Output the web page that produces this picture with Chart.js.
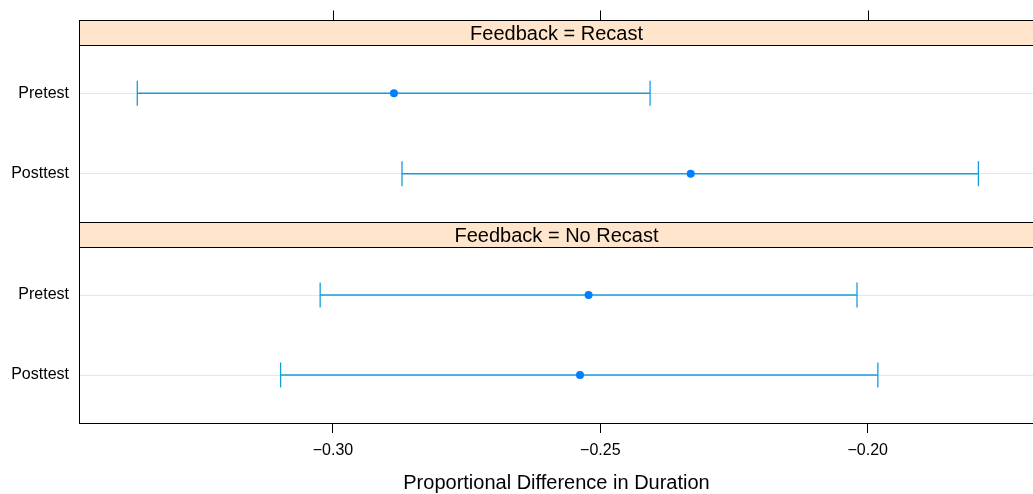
<!DOCTYPE html>
<html lang="en">
<head>
    <meta charset="UTF-8">
    <title>Proportional Difference in Duration</title>
    <script src="https://cdn.jsdelivr.net/npm/chart.js"></script>
    <style>
        body {
            margin: 0;
            width: 1033px;
            height: 494px;
            overflow: hidden;
            background: #fff;
            position: relative;
        }

        canvas {
            position: absolute;
            left: 0;
        }

        #recastChart { top: 0; }
        #noRecastChart { top: 222px; }
    </style>
</head>
<body>
    <canvas id="recastChart" width="1040" height="240"></canvas>
    <canvas id="noRecastChart" width="1040" height="272"></canvas>

    <script>
        // Data
        const groups = ['Recast', 'No Recast'];
        const rows = ['Pretest', 'Posttest'];
        const xTicks = [-0.30, -0.25, -0.20];

        const recastFit = [-0.2886, -0.2331];
        const recastLower = [-0.3366, -0.2871];
        const recastUpper = [-0.2407, -0.1793];

        const noRecastFit = [-0.2522, -0.2538];
        const noRecastLower = [-0.3024, -0.3098];
        const noRecastUpper = [-0.2020, -0.1981];

        const xMin = -0.3475;
        const xMax = -0.1689;

        const lineColor = '#149ddc';
        const dotColor = '#0080ff';
        const fontFamily = 'Arial, "Liberation Sans", Helvetica, sans-serif';

        Chart.defaults.font.family = fontFamily;
        Chart.defaults.color = '#000';

        // crisp 1px lines
        const crisp = v => Math.round(v) + 0.5;

        // Strip, panel box and (optionally) top axis ticks
        const panelFrame = {
            id: 'panelFrame',
            afterDraw(chart, args, opts) {
                const { ctx, chartArea: a } = chart;
                const left = crisp(a.left), right = crisp(a.right);
                const top = crisp(a.top), bottom = crisp(a.bottom);
                const sTop = crisp(a.top - opts.stripHeight);

                ctx.save();
                ctx.fillStyle = '#ffe5cc';
                ctx.fillRect(left, sTop, right - left, top - sTop);
                ctx.strokeStyle = '#000';
                ctx.lineWidth = 1;
                ctx.strokeRect(left, sTop, right - left, top - sTop);
                ctx.strokeRect(left, top, right - left, bottom - top);

                ctx.fillStyle = '#000';
                ctx.font = '20px ' + fontFamily;
                ctx.textAlign = 'center';
                ctx.textBaseline = 'middle';
                ctx.fillText(opts.label, (a.left + a.right) / 2, (sTop + top) / 2 + 1);

                if (opts.topTicks) {
                    ctx.beginPath();
                    xTicks.forEach(v => {
                        const x = crisp(chart.scales.x.getPixelForValue(v));
                        ctx.moveTo(x, sTop);
                        ctx.lineTo(x, sTop - 10);
                    });
                    ctx.stroke();
                }
                ctx.restore();
            }
        };

        function buildDatasets(fit, lower, upper) {
            const sets = [{
                type: 'scatter',
                data: fit.map((v, i) => ({ x: v, y: i + 1 })),
                pointRadius: 4,
                pointBackgroundColor: dotColor,
                pointBorderWidth: 0,
                order: 0
            }];
            rows.forEach((r, i) => {
                sets.push({
                    type: 'line',
                    data: [{ x: lower[i], y: i + 1 }, { x: upper[i], y: i + 1 }],
                    borderColor: lineColor,
                    borderWidth: 1.3,
                    pointStyle: 'line',
                    rotation: 90,
                    pointRadius: 12.5,
                    pointBorderColor: lineColor,
                    pointBorderWidth: 1.3,
                    order: 1
                });
            });
            return sets;
        }

        function makeChart(canvasId, group, fit, lower, upper, withBottomAxis, padding) {
            return new Chart(document.getElementById(canvasId), {
                data: { datasets: buildDatasets(fit, lower, upper) },
                options: {
                    responsive: false,
                    animation: false,
                    events: [],
                    layout: { padding, autoPadding: false },
                    plugins: {
                        legend: { display: false },
                        tooltip: { enabled: false },
                        panelFrame: { label: 'Feedback = ' + group, stripHeight: 25, topTicks: !withBottomAxis }
                    },
                    scales: {
                        x: {
                            type: 'linear',
                            min: xMin,
                            max: xMax,
                            display: withBottomAxis,
                            afterBuildTicks: scale => { scale.ticks = xTicks.map(v => ({ value: v })); },
                            afterFit: scale => { if (withBottomAxis) scale.height = 71; },
                            border: { display: false },
                            grid: { drawOnChartArea: false, drawTicks: true, tickLength: 10, tickColor: '#000' },
                            ticks: {
                                padding: 8,
                                font: { size: 16 },
                                maxRotation: 0,
                                callback: v => (v < 0 ? '\u2212' : '') + Math.abs(v).toFixed(2)
                            },
                            title: {
                                display: withBottomAxis,
                                text: 'Proportional Difference in Duration',
                                font: { size: 20, lineHeight: 1.1 },
                                padding: { top: 0, bottom: 0 }
                            }
                        },
                        y: {
                            type: 'linear',
                            reverse: true,
                            min: 0.4,
                            max: 2.6,
                            afterBuildTicks: scale => { scale.ticks = rows.map((r, i) => ({ value: i + 1 })); },
                            afterFit: scale => {
                                scale.width = 79;
                                scale.paddingTop = 0;
                                scale.paddingBottom = 0;
                            },
                            border: { display: false },
                            grid: { color: '#e6e6e6', lineWidth: 1, drawTicks: false },
                            ticks: {
                                padding: 10,
                                font: { size: 16 },
                                callback: (v, i) => rows[i]
                            }
                        }
                    }
                },
                plugins: [panelFrame]
            });
        }

        makeChart('recastChart', groups[0], recastFit, recastLower, recastUpper, false,
            { top: 45, bottom: 18, left: 0, right: 6 });
        makeChart('noRecastChart', groups[1], noRecastFit, noRecastLower, noRecastUpper, true,
            { top: 25, bottom: 0, left: 0, right: 6 });
    </script>
</body>
</html>
